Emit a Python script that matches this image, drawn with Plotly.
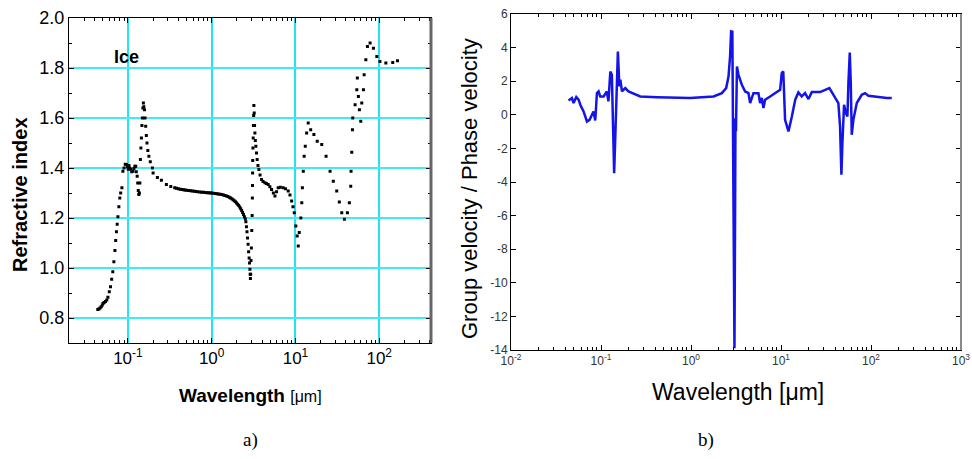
import plotly.graph_objects as go

# ---- panel a) : refractive index of ice (dots) ----
ice_wavelength = [
    0.0437, 0.0450, 0.0465, 0.0480, 0.0495, 0.0505, 0.0520, 0.0540, 0.0560, 0.0577,
    0.0600, 0.0620, 0.0640, 0.0660, 0.0680, 0.0700, 0.0715, 0.0730, 0.0745, 0.0760,
    0.0780, 0.0800, 0.0820, 0.0848, 0.0871, 0.0900, 0.0930, 0.0957, 0.0985, 0.1010,
    0.1030, 0.1050, 0.1080, 0.1110, 0.1150, 0.1180, 0.1210, 0.1240, 0.1260, 0.1290,
    0.1310, 0.1330, 0.1350, 0.1370, 0.1390, 0.1410, 0.1430, 0.1450, 0.1470, 0.1490,
    0.1510, 0.1530, 0.1550, 0.1580, 0.1600, 0.1630, 0.1660, 0.1690, 0.1730, 0.1780,
    0.1850, 0.1960, 0.2000, 0.2250, 0.2510, 0.2880, 0.3250, 0.3620,
    0.38, 0.40, 0.42, 0.44, 0.46, 0.48, 0.50, 0.53, 0.56, 0.59,
    0.62, 0.65, 0.68, 0.72, 0.76, 0.80, 0.84, 0.88, 0.92, 0.96,
    1.00, 1.05, 1.10, 1.15, 1.20, 1.26, 1.32, 1.38, 1.44, 1.50,
    1.56, 1.62, 1.68, 1.74, 1.80, 1.86, 1.92, 1.98, 2.04, 2.10,
    2.16, 2.22, 2.28, 2.34, 2.40, 2.46, 2.52, 2.56, 2.60, 2.64,
    2.68, 2.72, 2.76, 2.80, 2.83, 2.86, 2.88, 2.90,
    2.92, 2.95, 2.98, 3.01, 3.04, 3.06, 3.07, 3.08, 3.09, 3.11,
    3.13, 3.15, 3.17, 3.19, 3.22, 3.25, 3.28, 3.32, 3.37, 3.43,
    3.49, 3.57, 3.66, 3.78, 3.94, 4.10, 4.32, 4.50, 4.73, 4.95,
    5.19, 5.45, 5.69, 5.95, 6.22, 6.60, 7.14, 7.60, 8.20, 8.60,
    9.00, 9.35, 9.68, 10.1, 10.5, 10.8, 11.1, 11.6, 11.9, 12.1,
    12.4, 12.7, 13.1, 13.6, 14.2, 15.2, 16.6, 18.2, 20.6, 23.2,
    25.9, 28.3, 31.1, 33.4, 35.7, 38.4, 41.7, 44.0, 45.7, 46.1,
    47.0, 47.9, 48.3, 51.5, 54.0, 54.8, 56.4, 58.0, 60.2, 61.9,
    64.8, 66.0, 69.2, 72.3, 77.8, 85.3, 93.6, 102, 120, 145, 165,
]
ice_index = [
    0.834, 0.836, 0.840, 0.845, 0.852, 0.858, 0.862, 0.866, 0.872, 0.883,
    0.905, 0.925, 0.955, 0.985, 1.025, 1.070, 1.110, 1.145, 1.175, 1.205,
    1.245, 1.280, 1.300, 1.321, 1.387, 1.400, 1.415, 1.414, 1.405, 1.395,
    1.410, 1.400, 1.395, 1.385, 1.387, 1.398, 1.407, 1.407, 1.385, 1.367,
    1.340, 1.310, 1.294, 1.300, 1.340, 1.434, 1.480, 1.520, 1.570, 1.600,
    1.640, 1.660, 1.645, 1.633, 1.600, 1.567, 1.530, 1.500, 1.470, 1.447,
    1.425, 1.400, 1.380, 1.362, 1.351, 1.334, 1.326, 1.321,
    1.319, 1.317, 1.315, 1.314, 1.313, 1.312, 1.311, 1.310, 1.309, 1.308,
    1.307, 1.306, 1.305, 1.304, 1.303, 1.303, 1.302, 1.301, 1.301, 1.300,
    1.300, 1.299, 1.298, 1.297, 1.296, 1.295, 1.294, 1.292, 1.290, 1.288,
    1.286, 1.283, 1.280, 1.277, 1.273, 1.269, 1.265, 1.260, 1.255, 1.250,
    1.244, 1.237, 1.230, 1.222, 1.214, 1.205, 1.196, 1.185, 1.165, 1.145,
    1.120, 1.095, 1.065, 1.040, 1.020, 0.995, 0.975, 0.958,
    0.975, 1.030, 1.080, 1.150, 1.210, 1.280, 1.330, 1.380, 1.430, 1.480,
    1.520, 1.570, 1.610, 1.650, 1.620, 1.570, 1.540, 1.510, 1.487, 1.460,
    1.434, 1.410, 1.394, 1.372, 1.354, 1.346, 1.341, 1.338, 1.334, 1.325,
    1.314, 1.300, 1.288, 1.305, 1.321, 1.323, 1.321, 1.317, 1.308, 1.292,
    1.268, 1.245, 1.221, 1.168, 1.128, 1.088, 1.142, 1.200, 1.261, 1.321,
    1.387, 1.447, 1.487, 1.540, 1.580, 1.553, 1.534, 1.507, 1.494, 1.447,
    1.387, 1.347, 1.308, 1.264, 1.221, 1.195, 1.221, 1.261, 1.327, 1.387,
    1.463, 1.553, 1.600, 1.653, 1.713, 1.760, 1.686, 1.633, 1.587, 1.660,
    1.713, 1.773, 1.833, 1.886, 1.900, 1.879, 1.846, 1.826, 1.820, 1.822, 1.829,
]

# ---- panel b) : group velocity / phase velocity (line) ----
vel_wavelength = [
    0.0436, 0.0455, 0.0476, 0.0496, 0.0531, 0.0563, 0.0589, 0.0640, 0.0698, 0.0746,
    0.0793, 0.0826, 0.0863, 0.0901, 0.0940, 0.0980, 0.107, 0.116, 0.121, 0.127,
    0.132, 0.136, 0.140, 0.145, 0.150, 0.154, 0.160, 0.164, 0.171, 0.186,
    0.202, 0.240, 0.273, 0.418, 0.98, 1.78, 2.20, 2.46, 2.61, 2.72,
    2.79, 2.88, 2.92, 2.95, 2.99, 3.04, 3.08, 3.12, 3.16, 3.24,
    3.37, 3.67, 4.00, 4.35, 4.54, 4.94, 5.61, 5.86, 6.12, 6.38,
    6.66, 7.57, 8.99, 9.78, 10.2, 10.6, 11.1, 12.1, 13.2, 14.4,
    15.6, 17.0, 18.5, 20.2, 22.0, 27.2, 34.5, 38.2, 43.4, 45.3,
    46.9, 48.1, 50.2, 52.5, 54.7, 56.1, 58.1, 59.6, 61.1, 63.7,
    69.5, 78.9, 85.9, 93.5, 116, 150, 170,
]
vel_ratio = [
    0.85, 0.95, 1.00, 0.70, 1.06, 0.90, 0.60, 0.20, -0.40, -0.30,
    0.00, 0.20, -0.34, 1.29, 1.39, 1.09, 1.09, 1.39, 0.80, 2.58,
    2.38, -0.10, -3.47, -0.89, 2.68, 3.77, 1.69, 2.09, 1.39, 1.59,
    1.39, 1.19, 1.09, 1.05, 1.00, 1.09, 1.29, 1.59, 2.28, 3.50,
    4.97, 4.95, -2.30, -0.50, -8.00, -13.9, -7.50, -0.20, -1.00, 2.88,
    2.38, 1.79, 1.39, 1.29, 0.70, 1.29, 1.29, 0.70, 1.00, 0.40,
    0.90, 1.09, 1.39, 1.49, 2.49, 2.58, -0.30, -0.99, -0.10, 0.90,
    1.33, 1.09, 1.29, 0.94, 1.35, 1.35, 1.59, 1.19, 0.70, -0.69,
    -3.57, -1.69, 0.60, 0.10, -0.10, 1.89, 3.71, 1.89, -1.19, -0.30,
    0.70, 1.19, 1.29, 1.13, 1.05, 1.00, 1.00,
]

# tick labels
a_xticks = [0.1, 1, 10, 100]
a_xlabels = ['10<sup>-1</sup>', '10<sup>0</sup>', '10<sup>1</sup>', '10<sup>2</sup>']
b_xticks = [0.01, 0.1, 1, 10, 100, 1000]
b_xlabels = ['10<sup>-2</sup>', '10<sup>-1</sup>', '10<sup>0</sup>',
             '10<sup>1</sup>', '10<sup>2</sup>', '10<sup>3</sup>']
b_yticks = [6, 4, 2, 0, -2, -4, -6, -8, -10, -12, -14]
b_ylabels = [str(v) for v in b_yticks]

W, H = 972, 459
SANS = 'Liberation Sans, Arial, sans-serif'
SERIF = 'Liberation Serif, Times New Roman, serif'


def minor_log(lo, hi):
    return [m * 10 ** e for e in range(lo, hi) for m in range(2, 10)]


fig = go.Figure()
fig.add_trace(go.Scatter(x=ice_wavelength, y=ice_index, mode='markers',
                         marker=dict(symbol='square', size=3, color='black'),
                         xaxis='x', yaxis='y', showlegend=False))
fig.add_trace(go.Scatter(x=vel_wavelength, y=vel_ratio, mode='lines',
                         line=dict(color='#1414e6', width=2.5),
                         xaxis='x2', yaxis='y2', showlegend=False))

grid_cyan = '#40ecf2'
fig.update_layout(
    width=W, height=H, margin=dict(l=0, r=0, t=0, b=0),
    paper_bgcolor='white', plot_bgcolor='white',
    font=dict(family=SANS, color='black'),
    xaxis=dict(domain=[69 / W, 431 / W], type='log', range=[-1.703, 2.618],
               tickmode='array', tickvals=a_xticks, ticktext=a_xlabels,
               ticks='inside', ticklen=5, tickcolor='black',
               tickfont=dict(size=17), showgrid=True, gridcolor='#20e4ee', gridwidth=1.5,
               showline=True, linecolor='black', linewidth=1, mirror='ticks',
               minor=dict(tickvals=minor_log(-2, 3), ticks='inside', ticklen=3,
                          tickcolor='black', showgrid=False),
               zeroline=False, anchor='y', automargin=False),
    yaxis=dict(domain=[1 - 343 / H, 1 - 18 / H], range=[0.7, 2.0],
               tick0=0, dtick=0.2, tickformat='.1f',
               ticks='inside', ticklen=5, tickcolor='black',
               tickfont=dict(size=18), showgrid=True, gridcolor=grid_cyan, gridwidth=2,
               showline=True, linecolor='black', linewidth=1, mirror='ticks',
               minor=dict(dtick=0.1, ticks='inside', ticklen=3, tickcolor='black',
                          showgrid=False),
               zeroline=False, anchor='x', automargin=False),
    xaxis2=dict(domain=[511 / W, 961 / W], type='log', range=[-2, 3],
                tickmode='array', tickvals=b_xticks, ticktext=b_xlabels,
                ticks='inside', ticklen=5, tickcolor='black',
                tickfont=dict(size=12, color='#333333'), showgrid=False,
                showline=True, linecolor='black', linewidth=1, mirror='ticks',
                minor=dict(tickvals=minor_log(-2, 3), ticks='inside', ticklen=3,
                           tickcolor='black'),
                zeroline=False, anchor='y2', automargin=False),
    yaxis2=dict(domain=[1 - 350 / H, 1 - 14 / H], range=[-14, 6],
                tickmode='array', tickvals=b_yticks, ticktext=b_ylabels,
                ticks='inside', ticklen=5, tickcolor='black',
                tickfont=dict(size=12, color='#333333'), showgrid=False,
                showline=True, linecolor='black', linewidth=1, mirror='ticks',
                zeroline=False, anchor='x2', automargin=False),
)

# thick grey right frame of panel a)
fig.add_shape(type='line', xref='x domain', yref='y domain', x0=1, x1=1, y0=0, y1=1,
              line=dict(color='#666666', width=3))
fig.add_shape(type='line', xref='x2 domain', yref='y2 domain', x0=1, x1=1, y0=0, y1=1,
              line=dict(color='#888888', width=2))

notes = [
    dict(text='<b>Refractive index</b>', x=20 / W, y=1 - 195 / H, textangle=-90,
         font=dict(size=20, family=SANS)),
    dict(text="<b>Wavelength</b> <span style='font-size:16px'>[μm]</span>",
         x=250 / W, y=1 - 395 / H, font=dict(size=19, family=SANS)),
    dict(text='<b>Ice</b>', x=126 / W, y=1 - 57 / H, font=dict(size=18, family=SANS)),
    dict(text='Group velocity / Phase velocity', x=469 / W, y=1 - 189 / H,
         textangle=-90, font=dict(size=22, family=SANS)),
    dict(text='Wavelength [μm]', x=738 / W, y=1 - 392 / H, font=dict(size=23, family=SANS)),
    dict(text='a)', x=250 / W, y=1 - 440 / H, font=dict(size=19, family=SERIF)),
    dict(text='b)', x=706 / W, y=1 - 440 / H, font=dict(size=19, family=SERIF)),
]
for n in notes:
    fig.add_annotation(xref='paper', yref='paper', showarrow=False,
                       xanchor='center', yanchor='middle', **n)

# page body has a default 8px margin; drop it so the figure sits at (0, 0)
fig.write_html("out.html", config={'displayModeBar': False},
               post_script="document.body.style.margin='0';")
